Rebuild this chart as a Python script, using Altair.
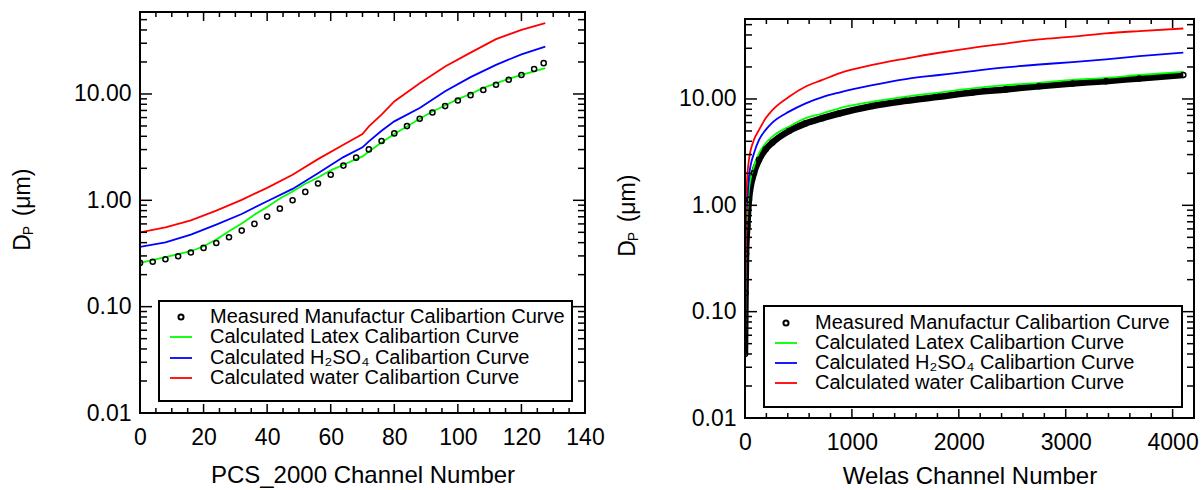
import altair as alt
import pandas as pd

FONT = "Liberation Sans"

# ---------------- Left panel data (PCS_2000) ----------------
pcs_meas_ch = [0, 4, 8, 12, 16, 20, 24, 28, 32, 36, 40, 44, 48, 52, 56, 60, 64, 68,
               72, 76, 80, 84, 88, 92, 96, 100, 104, 108, 112, 116, 120, 124, 127]
pcs_meas_dp = [0.258, 0.264, 0.279, 0.298, 0.323, 0.357, 0.397, 0.449, 0.519, 0.600,
               0.703, 0.835, 1.00, 1.20, 1.44, 1.74, 2.12, 2.52, 3.01, 3.61, 4.26,
               4.99, 5.85, 6.70, 7.69, 8.69, 9.75, 10.9, 12.2, 13.6, 15.1, 17.2, 19.5]

pcs_latex_ch = [0, 8, 16, 20, 24, 28, 32, 36, 40, 44, 48, 52, 56, 60, 64, 68, 70, 72,
                76, 80, 84, 88, 92, 96, 100, 104, 108, 112, 116, 120, 124, 127.5]
pcs_latex_dp = [0.258, 0.293, 0.332, 0.370, 0.427, 0.512, 0.604, 0.733, 0.866, 1.04,
                1.21, 1.43, 1.64, 1.91, 2.16, 2.44, 2.59, 2.88, 3.50, 4.20, 4.95, 5.85,
                6.85, 7.80, 8.95, 10.0, 11.4, 12.6, 13.9, 15.1, 16.3, 17.5]

pcs_h2so4_ch = [0, 8, 16, 24, 32, 40, 48, 56, 64, 70, 72, 76, 80, 88, 96, 104, 112, 120, 127.5]
pcs_h2so4_dp = [0.365, 0.403, 0.476, 0.591, 0.744, 0.979, 1.28, 1.80, 2.55, 3.15, 3.58,
                4.51, 5.53, 7.37, 10.6, 14.4, 18.8, 23.6, 27.9]

pcs_water_ch = [0, 8, 16, 24, 32, 40, 48, 56, 64, 70, 72, 76, 80, 88, 96, 104, 112, 120, 127.5]
pcs_water_dp = [0.50, 0.558, 0.649, 0.80, 1.01, 1.31, 1.74, 2.44, 3.33, 4.20, 4.95,
                6.40, 8.5, 12.6, 18.1, 24.5, 32.8, 40.1, 46.3]

# ---------------- Right panel data (Welas) ----------------
welas_ch = [0, 5, 10, 22, 37, 84, 131, 193, 256, 412, 568, 724, 880, 1192, 1504, 1816,
            2128, 2440, 2752, 3064, 3376, 3688, 4100]
welas_meas_dp = [0.04, 0.15, 0.35, 0.64, 1.13, 2.01, 2.68, 3.37, 3.89, 5.0, 5.9, 6.6,
                 7.3, 8.6, 9.6, 10.5, 11.5, 12.3, 13.2, 14.0, 14.7, 15.6, 16.8]
welas_latex_dp = [0.04, 0.2, 0.5, 0.85, 1.40, 2.32, 3.09, 3.83, 4.43, 5.5, 6.6, 7.3,
                  8.17, 9.43, 10.5, 11.5, 12.6, 13.5, 14.2, 15.1, 15.8, 16.8, 18.0]
welas_h2so4_dp = [0.045, 0.25, 0.7, 1.13, 1.87, 3.09, 4.13, 5.12, 6.0, 7.6, 9.1, 10.4,
                  11.5, 13.5, 15.4, 16.8, 18.3, 19.8, 21.1, 22.2, 23.6, 25.3, 27.3]
welas_water_dp = [0.039, 0.3, 1.0, 1.9, 2.68, 4.13, 5.12, 6.58, 7.87, 10.5, 13.1, 15.1,
                  17.4, 20.9, 24.0, 27.2, 30.3, 33.2, 36.3, 38.5, 41.4, 43.5, 46.0]

legend_labels = ["Measured Manufactur Calibartion Curve",
                 "Calculated Latex Calibartion Curve",
                 "Calculated H\u2082SO\u2084 Calibartion Curve",
                 "Calculated water Calibartion Curve"]
line_colors = ["#00ff00", "#0000ff", "#ff0000"]

y_major = [0.01, 0.1, 1, 10]


def build_panel(W, top, bottom, xdom, ydom, xmaj, xmin, xtitle, title_pad,
                meas, lines, legend_box, legend_rows, thick_meas=False, interp="linear"):
    xs = alt.Scale(domain=xdom, nice=False, zero=False)
    ys = alt.Scale(type="log", domain=ydom, nice=False, range=[bottom, top])
    xaxis = alt.Axis(title=xtitle, titleFont=FONT, titleFontSize=24, titleFontWeight="normal",
                     titlePadding=title_pad, titleColor="black",
                     labelFont=FONT, labelFontSize=23, labelPadding=13, labelColor="black",
                     ticks=False, domain=False, grid=False, values=xmaj, format="d",
                     labelFlush=False, labelOverlap=False)
    yaxis = alt.Axis(title="", labelFont=FONT, labelFontSize=23, labelPadding=9,
                     labelColor="black", ticks=False, domain=False, grid=False,
                     values=y_major, format=".2f", labelOverlap=False)

    def X(f):
        return alt.X(f"{f}:Q", scale=xs, axis=xaxis)

    def Y(f):
        return alt.Y(f"{f}:Q", scale=ys, axis=yaxis)

    ymin_ticks = [k * 10 ** e for e in (-2, -1, 0, 1) for k in range(2, 10) if k * 10 ** e < ydom[1]]
    layers = []
    for (chs, vals), col in zip(lines, line_colors):
        df = pd.DataFrame({"ch": chs, "dp": vals})
        layers.append(alt.Chart(df).mark_line(color=col, strokeWidth=1.8, clip=True,
                                              interpolate=interp)
                      .encode(x=X("ch"), y=Y("dp")))
    mch, mdp = meas
    mdf = pd.DataFrame({"ch": mch, "dp": mdp})
    if thick_meas:
        layers.insert(0, alt.Chart(mdf).mark_line(color="black", strokeWidth=6.5, clip=True,
                                                  interpolate=interp)
                      .encode(x=X("ch"), y=Y("dp")))
    layers.append(alt.Chart(mdf).mark_point(shape="circle", filled=False, color="black",
                                            size=26, strokeWidth=1.5, opacity=1, clip=True)
                  .encode(x=X("ch"), y=Y("dp")))

    tick_w = 1.5

    def yticks(vals, x0, x1):
        return alt.Chart(pd.DataFrame({"v": vals})).mark_rule(color="black", strokeWidth=tick_w).encode(
            y=Y("v"), x=alt.value(x0), x2=alt.value(x1))

    def xticks(vals, y0, y1):
        return alt.Chart(pd.DataFrame({"v": vals})).mark_rule(color="black", strokeWidth=tick_w).encode(
            x=X("v"), y=alt.value(y0), y2=alt.value(y1))

    layers += [yticks(y_major, 0, 12), yticks(ymin_ticks, 0, 7),
               yticks(y_major, W, W - 12), yticks(ymin_ticks, W, W - 7),
               xticks(xmaj, bottom, bottom - 9), xticks(xmin, bottom, bottom - 5),
               xticks(xmaj, top, top + 9), xticks(xmin, top, top + 5)]

    one = pd.DataFrame({"a": [0]})
    layers.append(alt.Chart(one).mark_rect(fill=None, stroke="black", strokeWidth=2).encode(
        x=alt.value(0), x2=alt.value(W), y=alt.value(top), y2=alt.value(bottom)))
    bx0, bx1, by0, by1 = legend_box
    layers.append(alt.Chart(one).mark_rect(fill="white", stroke="black", strokeWidth=2).encode(
        x=alt.value(bx0), x2=alt.value(bx1), y=alt.value(by0), y2=alt.value(by1)))
    sym_x = bx0 + 22
    layers.append(alt.Chart(one).mark_point(shape="circle", filled=False, color="black",
                                            size=26, strokeWidth=2, opacity=1).encode(
        x=alt.value(sym_x), y=alt.value(legend_rows[0])))
    for r, col in zip(legend_rows[1:], line_colors):
        layers.append(alt.Chart(one).mark_rule(color=col, strokeWidth=1.8).encode(
            x=alt.value(sym_x - 11), x2=alt.value(sym_x + 11), y=alt.value(r)))
    for r, lab in zip(legend_rows, legend_labels):
        layers.append(alt.Chart(one).mark_text(text=lab, font=FONT, fontSize=20, align="left",
                                               baseline="middle", color="black").encode(
            x=alt.value(bx0 + 51), y=alt.value(r)))
    mid = (top + bottom) / 2
    layers.append(alt.Chart(one).mark_text(text="D", font=FONT, fontSize=23, angle=270,
                                           align="center", baseline="middle", color="black").encode(
        x=alt.value(-117), y=alt.value(mid + 30)))
    layers.append(alt.Chart(one).mark_text(text="P", font=FONT, fontSize=14, angle=270,
                                           align="center", baseline="middle", color="black").encode(
        x=alt.value(-111), y=alt.value(mid + 18)))
    layers.append(alt.Chart(one).mark_text(text="(\u03bcm)", font=FONT, fontSize=23, angle=270,
                                           align="center", baseline="middle", color="black").encode(
        x=alt.value(-117), y=alt.value(mid - 20)))
    return alt.layer(*layers).properties(width=W, height=bottom)


left = build_panel(
    W=445, top=0, bottom=401, xdom=[0, 140], ydom=[0.01, 59],
    xmaj=list(range(0, 141, 20)), xmin=[v for v in range(0, 141, 5) if v % 20],
    xtitle="PCS_2000 Channel Number", title_pad=14,
    meas=(pcs_meas_ch, pcs_meas_dp),
    lines=[(pcs_latex_ch, pcs_latex_dp), (pcs_h2so4_ch, pcs_h2so4_dp), (pcs_water_ch, pcs_water_dp)],
    legend_box=(19, 432, 289, 389), legend_rows=[305, 325, 346, 366])

right = build_panel(
    W=449, top=7, bottom=406, xdom=[0, 4200], ydom=[0.01, 56.5],
    xmaj=list(range(0, 4001, 1000)), xmin=[v for v in range(0, 4200, 200) if v % 1000],
    xtitle="Welas Channel Number", title_pad=10,
    meas=(welas_ch, welas_meas_dp),
    lines=[(welas_ch, welas_latex_dp), (welas_ch, welas_h2so4_dp), (welas_ch, welas_water_dp)],
    legend_box=(19, 437, 294, 395), legend_rows=[311, 331, 351, 371], thick_meas=True,
    interp="monotone")

chart = alt.HConcatChart(
    hconcat=[left, right], spacing=160, bounds="flush",
    padding={"left": 12, "top": 11, "right": 0, "bottom": 0},
    background="white",
).configure_view(stroke=None)

chart.save("out.html", embed_options={"renderer": "svg", "actions": False})
